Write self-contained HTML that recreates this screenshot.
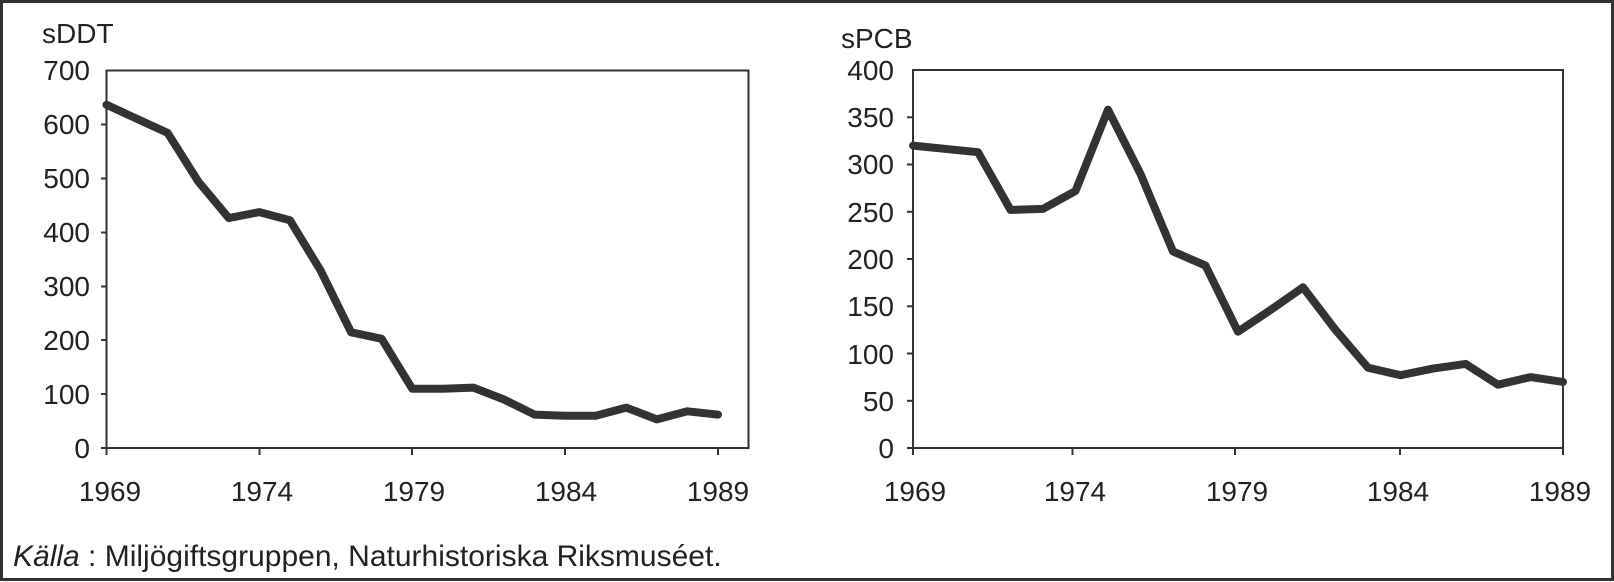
<!DOCTYPE html>
<html><head><meta charset="utf-8"><style>
html,body{margin:0;padding:0;background:#fff;}
svg{display:block;}
text{font-family:"Liberation Sans",Arial,sans-serif;fill:#222;}
</style></head><body>
<svg width="1614" height="582" viewBox="0 0 1614 582" xmlns="http://www.w3.org/2000/svg">
<rect x="1.5" y="1.5" width="1611" height="578" fill="none" stroke="#333" stroke-width="3"/>
<!-- Left chart -->
<g stroke="#333" stroke-width="2" fill="none">
<rect x="106.5" y="70.5" width="642" height="377.5"/>
<line x1="101" y1="448" x2="106" y2="448"/><line x1="101" y1="394" x2="106" y2="394"/><line x1="101" y1="340" x2="106" y2="340"/><line x1="101" y1="286.5" x2="106" y2="286.5"/><line x1="101" y1="232.5" x2="106" y2="232.5"/><line x1="101" y1="178.5" x2="106" y2="178.5"/><line x1="101" y1="124.5" x2="106" y2="124.5"/>
<line x1="106.5" y1="448" x2="106.5" y2="455"/><line x1="259.5" y1="448" x2="259.5" y2="455"/><line x1="412" y1="448" x2="412" y2="455"/><line x1="565" y1="448" x2="565" y2="455"/><line x1="718" y1="448" x2="718" y2="455"/>
</g>
<polyline fill="none" stroke="#333" stroke-width="8" stroke-linejoin="round" stroke-linecap="round" points="106.5,104.8 167.6,132.9 198.2,181.4 228.8,218.1 259.4,212.1 289.9,220.2 320.5,270.3 351.1,332.3 381.7,338.8 412.2,388.7 442.8,388.7 473.4,387.6 504,399.5 534.5,414.6 565.1,415.7 595.7,415.7 626.3,407.6 656.8,419.4 687.4,411.3 718,414.6"/>
<g font-size="28" text-anchor="end">
<text x="90" y="458">0</text><text x="90" y="404">100</text><text x="90" y="350">200</text><text x="90" y="296">300</text><text x="90" y="242">400</text><text x="90" y="188">500</text><text x="90" y="134">600</text><text x="90" y="80">700</text>
</g>
<g font-size="28" text-anchor="middle">
<text x="110" y="501">1969</text><text x="262" y="501">1974</text><text x="414" y="501">1979</text><text x="566" y="501">1984</text><text x="718" y="501">1989</text>
</g>
<text x="42" y="43" font-size="28">sDDT</text>
<!-- Right chart -->
<g stroke="#333" stroke-width="2" fill="none">
<rect x="913" y="70" width="650" height="378"/>
<line x1="907" y1="448" x2="913" y2="448"/><line x1="907" y1="400.8" x2="913" y2="400.8"/><line x1="907" y1="353.5" x2="913" y2="353.5"/><line x1="907" y1="306.3" x2="913" y2="306.3"/><line x1="907" y1="259" x2="913" y2="259"/><line x1="907" y1="211.8" x2="913" y2="211.8"/><line x1="907" y1="164.5" x2="913" y2="164.5"/><line x1="907" y1="117.3" x2="913" y2="117.3"/>
<line x1="913" y1="448" x2="913" y2="455"/><line x1="1072.5" y1="448" x2="1072.5" y2="455"/><line x1="1235" y1="448" x2="1235" y2="455"/><line x1="1400" y1="448" x2="1400" y2="455"/><line x1="1563" y1="448" x2="1563" y2="455"/>
</g>
<polyline fill="none" stroke="#333" stroke-width="8" stroke-linejoin="round" stroke-linecap="round" points="913,145.6 978,152.2 1010.5,209.9 1043,208.9 1075.5,191 1108,109.7 1140.5,173.9 1173,251.4 1205.5,265.6 1238,331.7 1270.5,310 1303,287.3 1335.5,329.9 1368,367.7 1400.5,375.2 1433,368.6 1465.5,363.9 1498,384.7 1530.5,377.1 1563,381.9"/>
<g font-size="28" text-anchor="end">
<text x="894" y="458">0</text><text x="894" y="411">50</text><text x="894" y="364">100</text><text x="894" y="316">150</text><text x="894" y="269">200</text><text x="894" y="222">250</text><text x="894" y="174">300</text><text x="894" y="127">350</text><text x="894" y="80">400</text>
</g>
<g font-size="28" text-anchor="middle">
<text x="915" y="501">1969</text><text x="1075" y="501">1974</text><text x="1237" y="501">1979</text><text x="1398" y="501">1984</text><text x="1560" y="501">1989</text>
</g>
<text x="841" y="48" font-size="28">sPCB</text>
<text x="13" y="566" font-size="30"><tspan font-style="italic">Källa</tspan> : Miljögiftsgruppen, Naturhistoriska Riksmuséet.</text>
</svg>
</body></html>
